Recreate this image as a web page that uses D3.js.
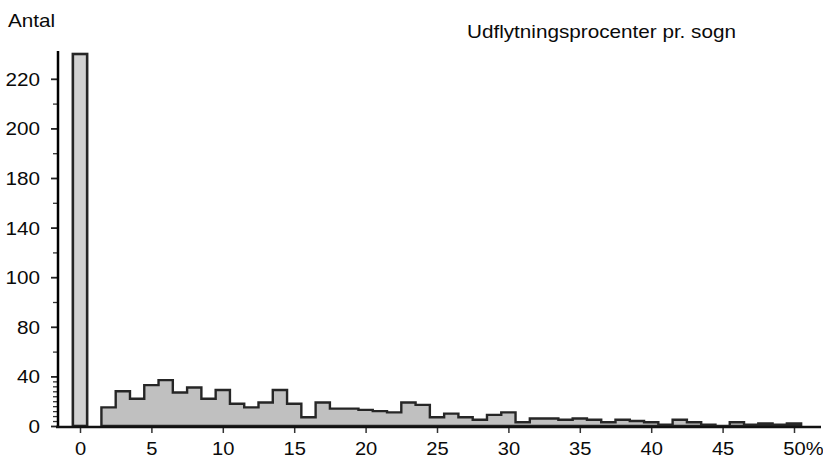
<!DOCTYPE html>
<html>
<head>
<meta charset="utf-8">
<script src="https://cdn.jsdelivr.net/npm/d3@7"></script>
<style>
  body { margin: 0; background: #fff; }
  text { font-family: "Liberation Sans", Arial, sans-serif; fill: #0a0a0a; }
</style>
</head>
<body>
<script>
//histogram data: one bin per whole percent
var bins   = [0, 1, 2, 3, 4, 5, 6, 7, 8, 9, 10, 11, 12, 13, 14, 15, 16, 17, 18, 19, 20,
              21, 22, 23, 24, 25, 26, 27, 28, 29, 30, 31, 32, 33, 34, 35, 36, 37, 38, 39, 40,
              41, 42, 43, 44, 45, 46, 47, 48, 49, 50];
var counts = [300, 0, 15, 28, 22, 33, 37, 27, 31, 22, 29, 18, 15, 19, 29, 18, 7, 19, 14, 14, 13,
              12, 11, 19, 17, 7, 10, 7, 5, 9, 11, 3, 6, 6, 5, 6, 5, 3, 5, 4, 3,
              1, 5, 3, 1, 0, 3, 1, 2, 1, 2];

var xTicks      = [0, 5, 10, 15, 20, 25, 30, 35, 40, 45, 50];
var xTickLabels = ["0", "5", "10", "15", "20", "25", "30", "35", "40", "45", "50%"];
var yTicks      = [0, 40, 80, 120, 160, 200, 240, 280];
var yTickLabels = ["0", "40", "80", "100", "140", "180", "200", "220"];
var yMinorTicks = [4, 8, 12, 16, 20, 24, 28, 32, 36, 60, 100, 140, 180, 220, 260];

var W = 823, H = 459;
var baseY = 426;
var stretch = 1.15; //scan is a bit wider than tall

var xScale = d3.scaleLinear().domain([0, 50]).range([80, 794]);
var yScale = d3.scaleLinear().domain([0, 280]).range([baseY, baseY - 280 * 1.24]);

var svg = d3.select("body").append("svg")
            .attr("width", W)
            .attr("height", H);

//bin 0 bar on its own
svg.append("rect")
   .attr("x", xScale(bins[0] - 0.5))
   .attr("y", yScale(counts[0]))
   .attr("width", xScale(0.5) - xScale(-0.5))
   .attr("height", yScale(0) - yScale(counts[0]))
   .attr("fill", "#d2d2d2")
   .attr("stroke", "#262626")
   .attr("stroke-width", 2.6);

//stepped outline for the remaining bins
var pts = [[1.5, 0]];
for (var i = 2; i < bins.length; i++) {
    pts.push([bins[i] - 0.5, counts[i]]);
    pts.push([bins[i] + 0.5, counts[i]]);
}
pts.push([50.5, 0]);

var line = d3.line()
             .x(function(d) { return xScale(d[0]); })
             .y(function(d) { return yScale(d[1]); });

svg.append("path")
   .attr("d", line(pts) + "Z")
   .attr("fill", "#c0c0c0")
   .attr("stroke", "#262626")
   .attr("stroke-width", 2.4)
   .attr("stroke-linejoin", "miter");

//axes
var xAxis = d3.axisBottom(xScale)
              .tickValues(xTicks)
              .tickSize(6)
              .tickFormat(function(d, i) { return xTickLabels[i]; });

var gx = svg.append("g")
            .attr("transform", "translate(0," + (baseY + 1) + ")")
            .call(xAxis);
gx.select(".domain").remove();
gx.selectAll(".tick line").attr("stroke", "#333").attr("stroke-width", 1.5);
gx.selectAll(".tick text")
  .attr("y", 0).attr("dy", 0)
  .attr("font-size", 17.5)
  .attr("transform", function(d, i) {
      var dx = (i === xTicks.length - 1) ? 9 : 0;
      return "translate(" + dx + ",28) scale(" + stretch + ",1)";
  });

var yAxis = d3.axisLeft(yScale)
              .tickValues(yTicks)
              .tickSize(6)
              .tickPadding(0)
              .tickFormat(function(d, i) { return yTickLabels[i]; });

var gy = svg.append("g")
            .attr("transform", "translate(57,0)")
            .call(yAxis);
gy.select(".domain").remove();
gy.selectAll(".tick line").attr("stroke", "#222").attr("stroke-width", 1.8);
gy.selectAll(".tick text")
  .attr("x", 0).attr("dy", "0.36em")
  .attr("font-size", 18)
  .attr("transform", "translate(-17,0) scale(" + stretch + ",1)");

//minor ticks on y
var yMinor = d3.axisLeft(yScale)
               .tickValues(yMinorTicks)
               .tickSize(4)
               .tickFormat("");
var gm = svg.append("g")
            .attr("transform", "translate(57,0)")
            .call(yMinor);
gm.select(".domain").remove();
gm.selectAll(".tick line").attr("stroke", "#333").attr("stroke-width", 1.3);

//axis lines
svg.append("line")
   .attr("x1", 58).attr("x2", 58)
   .attr("y1", 51).attr("y2", baseY + 1)
   .attr("stroke", "#000").attr("stroke-width", 2.5);

svg.append("line")
   .attr("x1", 56).attr("x2", 821)
   .attr("y1", baseY + 1).attr("y2", baseY + 1)
   .attr("stroke", "#111").attr("stroke-width", 2.5);

//labels
svg.append("text")
   .attr("transform", "translate(8,27) scale(" + stretch + ",1)")
   .attr("font-size", 18)
   .text("Antal");

svg.append("text")
   .attr("transform", "translate(467,38) scale(" + stretch + ",1)")
   .attr("font-size", 18)
   .text("Udflytningsprocenter pr. sogn");
</script>
</body>
</html>
